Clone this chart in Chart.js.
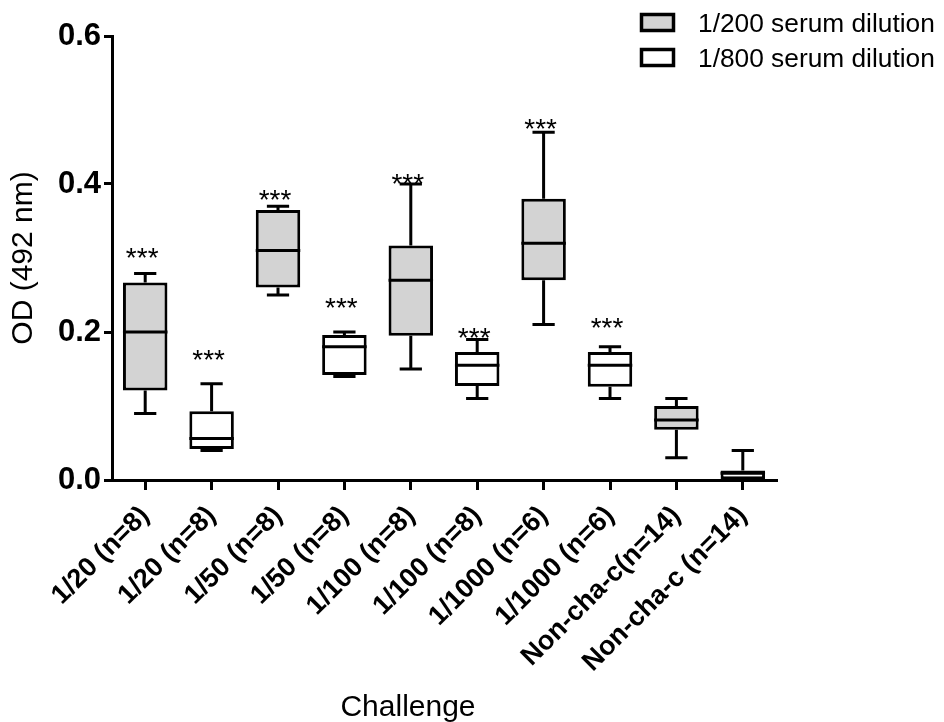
<!DOCTYPE html>
<html>
<head>
<meta charset="utf-8">
<title>OD (492 nm) by challenge</title>
<script src="https://cdn.jsdelivr.net/npm/chart.js@4/dist/chart.umd.min.js"></script>
<style>
  html, body { margin: 0; padding: 0; background: #fff; }
  #wrap { width: 944px; height: 722px; }
</style>
</head>
<body>
<div id="wrap"><canvas id="odchart" width="944" height="722"></canvas></div>
<script>
//
// values

var categories = ['1/20 (n=8)', '1/20 (n=8)', '1/50 (n=8)', '1/50 (n=8)', '1/100 (n=8)',
                  '1/100 (n=8)', '1/1000 (n=6)', '1/1000 (n=6)', 'Non-cha-c(n=14)', 'Non-cha-c (n=14)'];
var dilutions = ['1/200', '1/800', '1/200', '1/800', '1/200', '1/800', '1/200', '1/800', '1/200', '1/800'];

var minVals = [0.090, 0.040, 0.250, 0.140, 0.150, 0.110, 0.210, 0.110, 0.030, 0.000];
var q1Vals  = [0.121, 0.042, 0.260, 0.142, 0.195, 0.127, 0.270, 0.126, 0.068, 0.001];
var medVals = [0.200, 0.056, 0.310, 0.180, 0.270, 0.155, 0.320, 0.155, 0.081, 0.009];
var q3Vals  = [0.267, 0.093, 0.365, 0.196, 0.317, 0.173, 0.380, 0.173, 0.100, 0.013];
var maxVals = [0.279, 0.130, 0.370, 0.200, 0.400, 0.190, 0.470, 0.180, 0.110, 0.040];

// "***" marks, y value of the glyph centre
var starVals = [0.309, 0.172, 0.388, 0.242, 0.410, 0.201, 0.484, 0.2145, null, null];
var starText = '***';

var yTicks = [0, 0.2, 0.4, 0.6];
var legendLabels = ['1/200 serum dilution', '1/800 serum dilution'];

var FONT = "'Liberation Sans', Arial, sans-serif";
var GREY = '#d3d3d3';

function boxData(dil){
  var out = [];
  for (var i = 0; i < categories.length; i++){
    out.push(dilutions[i] == dil ? [q1Vals[i], q3Vals[i]] : null);
  }
  return out;
}

// whiskers, medians and stars on top of the bars
var boxPlot = {
  id: 'boxPlot',
  afterDatasetsDraw: function(chart){
    var ctx = chart.ctx;
    var xs = chart.scales.x;
    var ys = chart.scales.y;
    ctx.save();
    ctx.strokeStyle = '#000';
    ctx.lineWidth = 3;
    for (var i = 0; i < categories.length; i++){
      var meta = chart.getDatasetMeta(dilutions[i] == '1/200' ? 0 : 1);
      var w = meta.data[i].width;
      var cx = xs.getPixelForValue(i);
      var cap = w / 4;
      var yMin = ys.getPixelForValue(minVals[i]);
      var yQ1 = ys.getPixelForValue(q1Vals[i]);
      var yMed = ys.getPixelForValue(medVals[i]);
      var yQ3 = ys.getPixelForValue(q3Vals[i]);
      var yMax = ys.getPixelForValue(maxVals[i]);

      ctx.beginPath();
      ctx.moveTo(cx, yQ3); ctx.lineTo(cx, yMax);
      ctx.moveTo(cx - cap, yMax); ctx.lineTo(cx + cap, yMax);
      ctx.moveTo(cx, yQ1); ctx.lineTo(cx, yMin);
      ctx.moveTo(cx - cap, yMin); ctx.lineTo(cx + cap, yMin);
      ctx.moveTo(cx - w / 2, yMed); ctx.lineTo(cx + w / 2, yMed);
      ctx.stroke();

      if (starVals[i] != null){
        ctx.font = '28px ' + FONT;
        ctx.fillStyle = '#000';
        ctx.textAlign = 'center';
        ctx.textBaseline = 'alphabetic';
        ctx.fillText(starText, cx - 3, ys.getPixelForValue(starVals[i]) + 16);
      }
    }
    ctx.restore();
  },
  afterDraw: function(chart){
    var ctx = chart.ctx;
    var area = chart.chartArea;
    ctx.save();

    // legend, stacked in the top right corner
    for (var k = 0; k < chart.data.datasets.length; k++){
      var ds = chart.data.datasets[k];
      var top = 14.5 + k * 35;
      ctx.fillStyle = ds.backgroundColor;
      ctx.fillRect(641.5, top, 32, 16);
      ctx.lineWidth = 3.5;
      ctx.strokeStyle = '#000';
      ctx.strokeRect(641.5, top, 32, 16);
      ctx.fillStyle = '#000';
      ctx.font = '26.3px ' + FONT;
      ctx.textAlign = 'left';
      ctx.textBaseline = 'alphabetic';
      ctx.fillText(ds.label, 698, top + 17);
    }

    // x axis title
    ctx.font = '30px ' + FONT;
    ctx.textAlign = 'center';
    ctx.textBaseline = 'alphabetic';
    ctx.fillText('Challenge', (area.left + area.right) / 2 - 36, 716);
    ctx.restore();
  }
};

var ctx = document.getElementById('odchart').getContext('2d');
var odChart = new Chart(ctx, {
  type: 'bar',
  data: {
    labels: categories,
    datasets: [
      {
        label: legendLabels[0],
        data: boxData('1/200'),
        backgroundColor: GREY,
        borderColor: '#000',
        borderWidth: 3,
        borderSkipped: false,
        grouped: false,
        categoryPercentage: 1,
        barPercentage: 0.67
      },
      {
        label: legendLabels[1],
        data: boxData('1/800'),
        backgroundColor: '#ffffff',
        borderColor: '#000',
        borderWidth: 3,
        borderSkipped: false,
        grouped: false,
        categoryPercentage: 1,
        barPercentage: 0.67
      }
    ]
  },
  options: {
    responsive: false,
    animation: false,
    layout: { padding: { top: 36, right: 168, left: 0, bottom: 0 } },
    plugins: {
      legend: { display: false },
      tooltip: { enabled: false }
    },
    scales: {
      x: {
        offset: true,
        grid: { offset: false, drawOnChartArea: false, drawTicks: true, tickLength: 10, color: '#000', lineWidth: 3 },
        border: { display: true, color: '#000', width: 3 },
        ticks: {
          color: '#000',
          font: { family: FONT, size: 27, weight: 'bold' },
          minRotation: 45,
          maxRotation: 45,
          autoSkip: false,
          padding: 10
        },
        afterFit: function(scale){ scale.height = 242; }
      },
      y: {
        min: 0,
        max: 0.6,
        grid: { drawOnChartArea: false, drawTicks: true, tickLength: 8, color: '#000', lineWidth: 3 },
        border: { display: true, color: '#000', width: 3 },
        ticks: {
          color: '#000',
          font: { family: FONT, size: 31, weight: 'bold' },
          padding: 3,
          callback: function(v){ return Number(v).toFixed(1); }
        },
        afterBuildTicks: function(scale){
          scale.ticks = yTicks.map(function(v){ return { value: v }; });
        },
        title: {
          display: true,
          text: 'OD (492 nm)',
          color: '#000',
          font: { family: FONT, size: 30, weight: 'normal' },
          padding: { top: 6, bottom: 0 }
        },
        afterFit: function(scale){ scale.width = 112; }
      }
    }
  },
  plugins: [boxPlot]
});
</script>
</body>
</html>
